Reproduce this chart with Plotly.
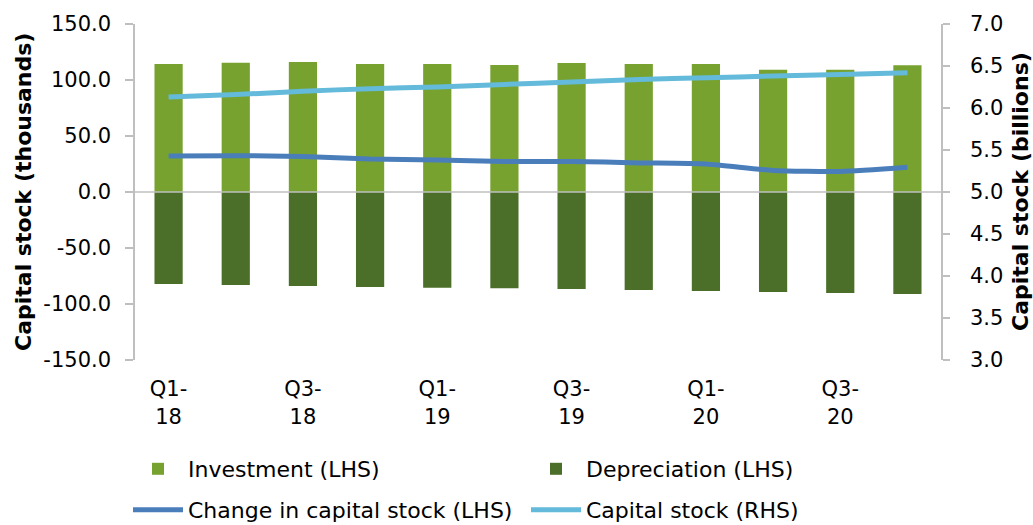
import plotly.graph_objects as go

quarters = ["Q1-18", "Q2-18", "Q3-18", "Q4-18", "Q1-19", "Q2-19", "Q3-19", "Q4-19",
            "Q1-20", "Q2-20", "Q3-20", "Q4-20"]
tick_quarters = ["Q1-18", "Q3-18", "Q1-19", "Q3-19", "Q1-20", "Q3-20"]
tick_labels = ["Q1-<br>18", "Q3-<br>18", "Q1-<br>19", "Q3-<br>19", "Q1-<br>20", "Q3-<br>20"]

left_ticks = [-150, -100, -50, 0, 50, 100, 150]
left_tick_labels = ["-150.0", "-100.0", "-50.0", "0.0", "50.0", "100.0", "150.0"]
right_ticks = [3.0, 3.5, 4.0, 4.5, 5.0, 5.5, 6.0, 6.5, 7.0]
right_tick_labels = ["3.0", "3.5", "4.0", "4.5", "5.0", "5.5", "6.0", "6.5", "7.0"]

investment = [114.3, 115.5, 116.0, 114.3, 114.3, 113.4, 115.2, 114.3, 114.3, 109.2, 109.2, 113.1]
depreciation = [-82.1, -83.0, -83.9, -84.8, -85.4, -86.0, -86.6, -87.5, -88.4, -89.3, -90.2, -91.1]
change_capital = [32.2, 32.4, 31.8, 29.4, 28.5, 27.2, 27.3, 26.0, 25.0, 19.3, 18.4, 22.2]
capital_stock = [6.13, 6.16, 6.20, 6.23, 6.25, 6.28, 6.31, 6.34, 6.36, 6.38, 6.40, 6.42]

FONT = "DejaVu Sans"
AXIS_GRAY = "#BFBFBF"
C_INV = "#78A22F"
C_DEP = "#4B6F28"
C_CHG = "#4A7EBB"
C_CAP = "#63BADA"

fig = go.Figure()
fig.add_trace(go.Bar(x=quarters, y=investment, name="Investment (LHS)",
                     marker=dict(color=C_INV, line=dict(width=0)), legend="legend"))
fig.add_trace(go.Bar(x=quarters, y=depreciation, name="Depreciation (LHS)",
                     marker=dict(color=C_DEP, line=dict(width=0)), legend="legend"))
fig.add_trace(go.Scatter(x=quarters, y=change_capital, name="Change in capital stock (LHS)",
                         mode="lines", line=dict(color=C_CHG, width=5, shape="spline", smoothing=0.6),
                         legend="legend2"))
fig.add_trace(go.Scatter(x=quarters, y=capital_stock, name="Capital stock (RHS)", yaxis="y2",
                         mode="lines", line=dict(color=C_CAP, width=5, shape="spline", smoothing=0.6),
                         legend="legend2"))

W, H = 1033, 525
ML, MR, MT, MB = 135, 92, 24, 165
ITEM_W = 50

fig.update_layout(
    width=W, height=H,
    margin=dict(l=ML, r=MR, t=MT, b=MB, autoexpand=False),
    paper_bgcolor="white", plot_bgcolor="white",
    font=dict(family=FONT, size=21, color="#000000"),
    barmode="relative", bargap=0.58,
    xaxis=dict(type="category", categoryorder="array", categoryarray=quarters,
               tickmode="array", tickvals=tick_quarters, ticktext=tick_labels,
               showline=False, showgrid=False, zeroline=False,
               ticks="outside", ticklen=10, tickcolor="rgba(0,0,0,0)",
               tickfont=dict(size=21)),
    yaxis=dict(range=[-150, 150], tickmode="array", tickvals=left_ticks, ticktext=left_tick_labels,
               showline=True, linecolor=AXIS_GRAY, linewidth=1.5, showgrid=False, zeroline=False,
               ticks="outside", ticklen=8, tickcolor=AXIS_GRAY, tickwidth=1.5,
               ticklabelstandoff=10, tickfont=dict(size=21)),
    yaxis2=dict(range=[3, 7], tickmode="array", tickvals=right_ticks, ticktext=right_tick_labels,
                overlaying="y", side="right",
                showline=True, linecolor=AXIS_GRAY, linewidth=1.5, showgrid=False, zeroline=False,
                ticks="outside", ticklen=7, tickcolor=AXIS_GRAY, tickwidth=1.5,
                ticklabelstandoff=16, tickfont=dict(size=21)),
    legend=dict(orientation="h", xref="container", yref="container",
                x=(148 - (ITEM_W - 30)) / W, y=1 - 469 / H, xanchor="left", yanchor="middle",
                entrywidth=353 - (ITEM_W - 30), entrywidthmode="pixels", itemwidth=ITEM_W,
                font=dict(size=22), bgcolor="rgba(0,0,0,0)", borderwidth=0),
    legend2=dict(orientation="h", xref="container", yref="container",
                 x=(148 - (ITEM_W - 30)) / W, y=1 - 510 / H, xanchor="left", yanchor="middle",
                 entrywidth=353 - (ITEM_W - 30), entrywidthmode="pixels", itemwidth=ITEM_W,
                 font=dict(size=22), bgcolor="rgba(0,0,0,0)", borderwidth=0),
    showlegend=True,
)

plot_w = W - ML - MR
fig.add_shape(type="line", xref="paper", yref="y", x0=0, x1=1, y0=0, y1=0,
              line=dict(color=AXIS_GRAY, width=1.5), layer="above")

fig.add_annotation(text="<b>Capital stock (thousands)</b>", textangle=-90,
                   xref="paper", yref="paper", x=(23 - ML) / plot_w, y=0.5,
                   xanchor="center", yanchor="middle", showarrow=False,
                   font=dict(size=22, family=FONT))
fig.add_annotation(text="<b>Capital stock (billions)</b>", textangle=-90,
                   xref="paper", yref="paper", x=(1020 - ML) / plot_w, y=0.5,
                   xanchor="center", yanchor="middle", showarrow=False,
                   font=dict(size=22, family=FONT))

fig.write_html("out.html", config={"displayModeBar": False},
               post_script="document.body.style.margin='0px';")
